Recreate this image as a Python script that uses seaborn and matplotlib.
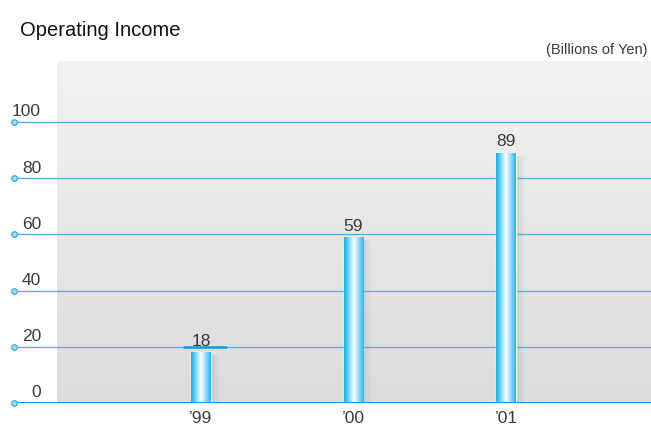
import numpy as np
import pandas as pd
import matplotlib
matplotlib.use("Agg")
import matplotlib.pyplot as plt
import seaborn as sns
from matplotlib.colors import LinearSegmentedColormap
from matplotlib.patches import Rectangle

years = ["\u201999", "\u201900", "\u201901"]
income = [18, 59, 89]
yticks = [0, 20, 40, 60, 80, 100]
title = "Operating Income"
unit = "(Billions of Yen)"

sns.set_theme(style="white")
plt.rcParams['font.family'] = ['Liberation Sans', 'DejaVu Sans']

W, H = 651, 427
fig = plt.figure(figsize=(W / 100, H / 100), dpi=100)
px_left, px_right = 13, 651
px_top, px_zero = 62, 404
ax = fig.add_axes([px_left / W, (H - px_zero) / H, (px_right - px_left) / W, (px_zero - px_top) / H])

ppu = (404 - 123) / 100.0
ytop = (px_zero - px_top) / ppu
xs = 152.5
x0 = 201
xlim = ((px_left - x0) / xs, (px_right - x0) / xs)

df = pd.DataFrame({"year": years, "income": income})
sns.barplot(data=df, x="year", y="income", ax=ax, width=0.13, color="#30c0ee", zorder=3, saturation=1)
bars = list(ax.patches)
ax.set_xlim(*xlim)
ax.set_ylim(0, ytop)

# background panel gradient
panel_x0 = (57 - x0) / xs
grad = np.linspace(0, 1, 256).reshape(-1, 1)
bg_cmap = LinearSegmentedColormap.from_list("bg", ["#f1f2f2", "#dcdcdd"])
ax.imshow(grad, cmap=bg_cmap, aspect="auto", extent=(panel_x0, xlim[1], 0, ytop),
          origin="upper", zorder=0, interpolation="bicubic")

# gridlines
for t in yticks:
    if t == 0:
        ax.axhline(t, color="#00a0e0", lw=2.2, zorder=4)
    else:
        ax.axhline(t, color="#45b4e4", lw=0.9, zorder=1)
    ax.plot([xlim[0] + 0.004], [t], marker="o", ms=4, mfc="#a8def5", mec="#1aa6e0", mew=0.8,
            zorder=5, clip_on=False)
    ax.text((41 - x0) / xs, t + 3.5 / ppu, str(t), ha="right", va="bottom",
            fontsize=12.5, color="#3a3a3a", zorder=6)

# underline segment near '99 label
ax.plot([(184 - x0) / xs, (226 - x0) / xs], [20, 20], color="#00a0e0", lw=1.8, zorder=4)

# bar gradients and shadows
bar_cmap = LinearSegmentedColormap.from_list("bar", ["#12aee8", "#7dd6f6", "#ffffff", "#8fdcf7", "#22b6ea"])
hgrad = np.linspace(0, 1, 256).reshape(1, -1)
for p in bars:
    bx, by = p.get_x(), p.get_y()
    bw, bh = p.get_width(), p.get_height()
    for i, a in enumerate([0.10, 0.07, 0.04]):
        ax.add_patch(Rectangle((bx + bw, by), (3 + 3 * i) / xs, bh - 1, color="#808080",
                               alpha=a, lw=0, zorder=2))
    im = ax.imshow(hgrad, cmap=bar_cmap, aspect="auto", extent=(bx, bx + bw, by, by + bh),
                   zorder=3.5, interpolation="bicubic")
    im.set_clip_path(p)
    ax.text(bx + bw / 2, by + bh + 4.5 / ppu, f"{int(round(bh))}", ha="center", va="bottom",
            fontsize=12.5, color="#3a3a3a", zorder=6)

ax.set_xlim(*xlim)
ax.set_ylim(0, ytop)
ax.set_yticks([])
ax.set_xticks(range(len(years)))
ax.set_xticklabels(years, fontsize=12.5, color="#3a3a3a")
ax.tick_params(axis="x", length=0, pad=5)
ax.set_xlabel("")
ax.set_ylabel("")
for s in ax.spines.values():
    s.set_visible(False)

fig.text(20 / W, 1 - 30 / H, title, fontsize=14.5, color="#111111", ha="left", va="center")
fig.text(648 / W, 1 - 50 / H, unit, fontsize=10.5, color="#3a3a3a", ha="right", va="center")

fig.savefig("out.png", dpi=100)
